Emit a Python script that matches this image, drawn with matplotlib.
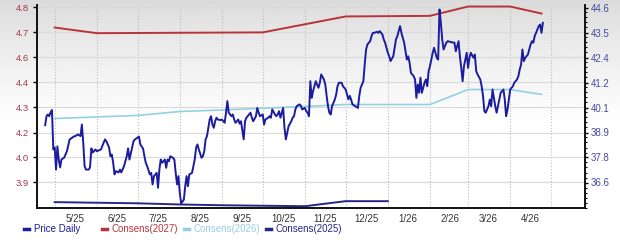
import matplotlib
matplotlib.use("Agg")
import matplotlib.pyplot as plt
import matplotlib.dates as mdates
from matplotlib.ticker import FixedLocator, FixedFormatter, AutoMinorLocator, NullFormatter
import numpy as np
import pandas as pd

# daily share price (right axis)
price_dates = [
    "2025-04-24", "2025-04-25", "2025-04-26", "2025-04-27", "2025-04-28", "2025-04-29", "2025-04-30",
    "2025-05-01", "2025-05-02", "2025-05-03", "2025-05-04", "2025-05-05", "2025-05-06", "2025-05-08",
    "2025-05-10", "2025-05-12", "2025-05-13", "2025-05-15", "2025-05-16", "2025-05-17", "2025-05-18",
    "2025-05-20", "2025-05-21", "2025-05-22", "2025-05-23", "2025-05-24", "2025-05-26", "2025-05-27",
    "2025-05-28", "2025-05-29", "2025-05-31",
    "2025-06-01", "2025-06-03", "2025-06-04", "2025-06-07", "2025-06-08", "2025-06-10", "2025-06-11",
    "2025-06-12", "2025-06-13", "2025-06-14", "2025-06-15", "2025-06-17", "2025-06-18", "2025-06-19",
    "2025-06-21", "2025-06-22", "2025-06-23", "2025-06-24", "2025-06-25", "2025-06-27", "2025-06-28",
    "2025-06-29", "2025-06-30",
    "2025-07-02", "2025-07-03", "2025-07-05", "2025-07-06", "2025-07-07", "2025-07-08", "2025-07-10",
    "2025-07-11", "2025-07-12", "2025-07-13", "2025-07-15", "2025-07-16", "2025-07-17", "2025-07-18",
    "2025-07-19", "2025-07-21", "2025-07-22", "2025-07-23", "2025-07-24", "2025-07-25", "2025-07-27",
    "2025-07-28", "2025-07-29", "2025-07-30", "2025-07-31",
    "2025-08-01", "2025-08-02", "2025-08-04", "2025-08-05", "2025-08-06", "2025-08-07", "2025-08-08",
    "2025-08-10", "2025-08-12", "2025-08-13", "2025-08-14", "2025-08-15", "2025-08-17", "2025-08-18",
    "2025-08-19", "2025-08-20", "2025-08-21", "2025-08-23", "2025-08-24", "2025-08-25", "2025-08-26",
    "2025-08-27", "2025-08-28", "2025-08-29", "2025-08-31",
    "2025-09-01", "2025-09-03", "2025-09-04", "2025-09-05", "2025-09-06", "2025-09-08", "2025-09-09",
    "2025-09-10", "2025-09-11", "2025-09-13", "2025-09-14", "2025-09-15", "2025-09-17", "2025-09-18",
    "2025-09-19", "2025-09-21", "2025-09-22", "2025-09-23", "2025-09-24", "2025-09-26", "2025-09-27",
    "2025-09-28", "2025-09-29",
    "2025-10-01", "2025-10-02", "2025-10-03", "2025-10-05", "2025-10-06", "2025-10-07", "2025-10-08",
    "2025-10-10", "2025-10-11", "2025-10-12", "2025-10-13", "2025-10-14", "2025-10-16", "2025-10-17",
    "2025-10-18", "2025-10-19", "2025-10-20", "2025-10-22", "2025-10-23", "2025-10-24", "2025-10-25",
    "2025-10-26", "2025-10-28", "2025-10-29", "2025-10-30",
    "2025-11-01", "2025-11-02", "2025-11-03", "2025-11-04", "2025-11-05", "2025-11-06", "2025-11-07",
    "2025-11-09", "2025-11-10", "2025-11-11", "2025-11-12", "2025-11-13", "2025-11-15", "2025-11-16",
    "2025-11-17", "2025-11-18", "2025-11-19", "2025-11-20", "2025-11-21", "2025-11-23", "2025-11-24",
    "2025-11-25", "2025-11-26", "2025-11-28", "2025-11-29", "2025-11-30",
    "2025-12-01", "2025-12-03", "2025-12-04", "2025-12-05", "2025-12-06", "2025-12-08", "2025-12-10",
    "2025-12-11", "2025-12-12", "2025-12-14", "2025-12-15", "2025-12-16", "2025-12-17", "2025-12-19",
    "2025-12-20", "2025-12-21", "2025-12-22", "2025-12-24", "2025-12-25", "2025-12-26", "2025-12-28",
    "2025-12-29", "2025-12-30", "2025-12-31",
    "2026-01-01", "2026-01-02", "2026-01-03", "2026-01-05", "2026-01-06", "2026-01-07", "2026-01-08",
    "2026-01-10", "2026-01-11", "2026-01-12", "2026-01-13", "2026-01-15", "2026-01-16", "2026-01-17",
    "2026-01-18", "2026-01-20", "2026-01-21", "2026-01-22", "2026-01-23", "2026-01-24", "2026-01-25",
    "2026-01-26", "2026-01-27", "2026-01-28", "2026-01-29", "2026-01-30", "2026-01-31",
    "2026-02-01", "2026-02-02", "2026-02-03", "2026-02-04", "2026-02-06", "2026-02-07", "2026-02-08",
    "2026-02-09", "2026-02-10", "2026-02-11", "2026-02-13", "2026-02-14", "2026-02-17", "2026-02-19",
    "2026-02-20", "2026-02-22", "2026-02-23", "2026-02-24", "2026-02-25", "2026-02-26", "2026-02-28",
    "2026-03-01", "2026-03-02", "2026-03-03", "2026-03-05", "2026-03-06", "2026-03-07", "2026-03-08",
    "2026-03-10", "2026-03-11", "2026-03-12", "2026-03-13", "2026-03-14", "2026-03-16", "2026-03-17",
    "2026-03-18", "2026-03-19", "2026-03-21", "2026-03-22", "2026-03-23", "2026-03-24", "2026-03-25",
    "2026-03-27", "2026-03-28", "2026-03-29", "2026-03-30",
    "2026-04-01", "2026-04-02", "2026-04-03", "2026-04-04", "2026-04-06", "2026-04-07", "2026-04-08",
    "2026-04-09", "2026-04-10", "2026-04-11", "2026-04-12", "2026-04-14", "2026-04-15", "2026-04-16",
    "2026-04-17", "2026-04-18", "2026-04-19", "2026-04-21", "2026-04-22", "2026-04-23", "2026-04-24",
    "2026-04-25",
]
price_values = [
    39.22, 39.63, 39.71, 39.63, 39.81, 39.91, 38.11,
    38.20, 37.19, 38.25, 37.65, 37.29, 37.65, 37.74,
    38.03, 38.57, 38.61, 38.70, 38.72, 38.75, 38.80,
    38.72, 39.25, 38.43, 37.35, 37.19, 37.19, 37.29,
    38.16, 37.97, 38.11,
    38.03, 38.08, 38.11, 38.57, 38.49, 38.20, 37.80,
    37.88, 37.51, 36.97, 37.12, 37.06, 37.19, 37.06,
    37.35, 37.57, 37.80, 38.16, 37.65, 38.20, 38.49,
    38.57, 38.61,
    38.70, 38.34, 38.15, 37.80, 37.50, 37.35, 36.97,
    37.04, 36.51, 36.89, 37.04, 36.36, 37.19, 37.65,
    37.50, 37.65, 37.27, 37.65, 37.57, 37.80, 37.73,
    37.65, 37.04, 36.51, 36.89,
    36.13, 35.64, 35.82, 36.43, 36.89, 36.43, 36.97,
    37.04, 37.65, 38.19, 38.34, 38.11, 37.73, 37.80,
    38.03, 38.57, 38.72, 39.48, 39.63, 39.25, 39.10,
    39.40, 39.56, 39.48, 39.45,
    39.48, 39.33, 39.79, 40.32, 39.79, 39.63, 39.71,
    39.48, 39.33, 39.48, 39.29, 39.40, 38.57, 39.40,
    39.56, 39.71, 39.79, 39.56, 39.40, 39.63, 40.01,
    39.79, 39.63,
    39.71, 39.25, 39.48, 39.56, 39.63, 39.56, 39.94,
    39.71, 39.63, 39.71, 39.86, 39.56, 40.01, 39.10,
    38.57, 38.87, 39.17, 39.40, 39.56, 39.63, 39.94,
    40.09, 40.17, 40.12, 39.94,
    40.01, 39.86, 39.79, 39.63, 41.23, 40.47, 40.77,
    41.23, 41.08, 40.93, 41.16, 41.54, 41.31, 41.08,
    40.56, 40.09, 39.79, 39.71, 40.09, 40.39, 40.62,
    41.00, 41.16, 41.16, 41.00, 40.93,
    40.85, 40.40, 40.56, 40.39, 40.17, 40.09, 40.01,
    40.56, 40.93, 41.23, 41.99, 42.68, 42.91, 43.06,
    43.29, 43.44, 43.44, 43.49, 43.44, 43.52, 43.37,
    43.14, 42.99, 42.76,
    42.53, 42.37, 42.15, 42.37, 42.76, 43.14, 43.29,
    43.75, 43.44, 43.22, 42.99, 42.22, 42.37, 42.07,
    41.61, 41.46, 41.31, 40.47, 41.08, 40.70, 41.39,
    40.70, 40.93, 41.16, 41.31, 41.00, 41.69,
    41.92, 42.22, 42.53, 42.76, 42.30, 42.22, 44.51,
    43.90, 43.14, 42.68, 42.99, 43.06, 43.01, 42.99,
    42.60, 43.06, 42.37, 41.84, 41.23, 41.92, 42.53,
    41.84, 42.30, 42.53, 42.30, 42.45, 41.69, 41.54,
    41.31, 41.00, 40.56, 39.86, 39.79, 40.09, 40.39,
    40.09, 40.85, 40.09, 39.79, 40.09, 40.39, 40.70,
    40.85, 40.39, 39.63, 39.94,
    40.85, 40.93, 41.00, 41.16, 41.31, 41.46, 41.77,
    41.99, 42.68, 42.15, 42.30, 42.45, 42.68, 42.91,
    43.06, 42.99, 43.29, 43.59, 43.75, 43.82, 43.44,
    43.90,
]

# consensus EPS estimates (left axis)
c2027_dates = ["2025-05-01", "2025-06-01", "2025-10-01", "2025-12-01", "2026-02-01",
               "2026-03-01", "2026-04-01", "2026-04-24"]
c2027_values = [4.697, 4.668, 4.672, 4.754, 4.757, 4.805, 4.805, 4.769]

c2026_dates = ["2025-05-01", "2025-07-01", "2025-08-01", "2025-09-01", "2025-11-01",
               "2025-12-01", "2026-02-01", "2026-03-01", "2026-04-01", "2026-04-24"]
c2026_values = [4.229, 4.245, 4.265, 4.273, 4.291, 4.301, 4.301, 4.378, 4.378, 4.353]

c2025_dates = ["2025-05-01", "2025-07-01", "2025-08-01", "2025-09-01", "2025-11-01",
               "2025-12-01", "2026-01-01"]
c2025_values = [3.799, 3.793, 3.787, 3.783, 3.778, 3.804, 3.804]

eps_labels = ["3.9", "4.0", "4.2", "4.3", "4.4", "4.6", "4.7", "4.8"]
price_labels = ["36.6", "37.8", "38.9", "40.1", "41.2", "42.4", "43.5", "44.6"]
month_labels = ["5/25", "6/25", "7/25", "8/25", "9/25", "10/25", "11/25", "12/25",
                "1/26", "2/26", "3/26", "4/26"]

plt.rcParams["font.family"] = ["Liberation Sans", "DejaVu Sans"]

fig = plt.figure(figsize=(6.2, 2.48), dpi=100)
fig.patch.set_facecolor("white")

# soft grey fade at the top of the picture
bg = fig.add_axes([0, 0, 1, 1], zorder=-10)
t = np.linspace(0, 1, 300)[:, None]
shade = 0.855 + 0.145 * np.clip(t / 0.5, 0, 1) ** 0.8
bg.imshow(np.repeat(shade, 2, axis=1), cmap="gray", vmin=0, vmax=1,
          aspect="auto", extent=[0, 1, 0, 1], origin="upper")
bg.axis("off")

ax = fig.add_axes([37 / 620, 1 - 208 / 248, 548 / 620, 203 / 248])
ax.set_facecolor("none")

col_price = "#1c1c9e"
col_27 = "#b8333a"
col_26 = "#95d0e2"
col_25 = "#26268a"

l27, = ax.plot(pd.to_datetime(c2027_dates), c2027_values, color=col_27, lw=1.4, label="Consens(2027)")
l26, = ax.plot(pd.to_datetime(c2026_dates), c2026_values, color=col_26, lw=1.2, label="Consens(2026)")
l25, = ax.plot(pd.to_datetime(c2025_dates), c2025_values, color=col_25, lw=1.4, label="Consens(2025)")

ax2 = ax.twinx()
lp, = ax2.plot(pd.to_datetime(price_dates), price_values, color=col_price, lw=1.4, label="Price Daily")

# left axis: eight evenly spaced ticks
k1 = (4.8 - 3.9) / 7
ax.set_ylim(4.8 - 8.02 * k1, 4.8 + 0.1 * k1)
ax.yaxis.set_major_locator(FixedLocator(np.linspace(3.9, 4.8, 8)))
ax.yaxis.set_major_formatter(FixedFormatter(eps_labels))

k2 = (44.6 - 36.6) / 7
ax2.set_ylim(44.6 - 8.02 * k2, 44.6 + 0.1 * k2)
ax2.yaxis.set_major_locator(FixedLocator(np.linspace(36.6, 44.6, 8)))
ax2.yaxis.set_major_formatter(FixedFormatter(price_labels))
ax2.yaxis.set_minor_locator(AutoMinorLocator(5))

# x axis: grid at month starts, labels mid-month
ax.set_xlim(pd.Timestamp("2025-04-18"), pd.Timestamp("2026-05-26"))
month_starts = pd.date_range("2025-05-01", "2026-05-01", freq="MS")
label_days = pd.date_range("2025-05-01", "2026-04-01", freq="MS") + pd.Timedelta(days=15)
ax.xaxis.set_major_locator(FixedLocator(mdates.date2num(month_starts)))
ax.xaxis.set_major_formatter(NullFormatter())
ax.xaxis.set_minor_locator(FixedLocator(mdates.date2num(label_days)))
ax.xaxis.set_minor_formatter(FixedFormatter(month_labels))

ax.grid(axis="y", color="#d9d9d9", lw=0.8)
ax.grid(axis="x", which="major", color="#bdbdbd", lw=0.8, ls=":")
ax.set_axisbelow(True)

ax.tick_params(axis="x", which="both", length=0, pad=4, labelsize=7, labelcolor="#333333")
ax.tick_params(axis="y", length=3, width=1, pad=3, labelsize=6.8, labelcolor="#a5384a")
ax2.tick_params(axis="y", which="major", length=2.5, width=1, pad=1.5, labelsize=7, labelcolor="#4848a4")
ax2.tick_params(axis="y", which="minor", length=1.5, width=0.8)

for a in (ax, ax2):
    a.spines["top"].set_visible(False)
    for s in ("left", "bottom", "right"):
        a.spines[s].set_linewidth(1.4)
        a.spines[s].set_color("#111111")
ax.spines["right"].set_visible(False)
ax2.spines["left"].set_visible(False)
ax2.spines["bottom"].set_visible(False)

# legend below the plot
leg1 = fig.legend(handles=[lp], loc="center left", bbox_to_anchor=(24 / 620, 1 - 229 / 248),
                  frameon=False, fontsize=7, handlelength=0.5, handletextpad=0.5,
                  borderpad=0, borderaxespad=0, labelcolor="linecolor")
leg2 = fig.legend(handles=[l27, l26, l25], loc="center left", bbox_to_anchor=(102 / 620, 1 - 229 / 248),
                  ncol=3, frameon=False, fontsize=7, handlelength=0.5, handletextpad=0.5,
                  columnspacing=0.6, borderpad=0, borderaxespad=0, labelcolor="linecolor")
for lg in (leg1, leg2):
    for h in lg.legend_handles:
        h.set_linewidth(2.5)

fig.savefig("out.png", dpi=100)
